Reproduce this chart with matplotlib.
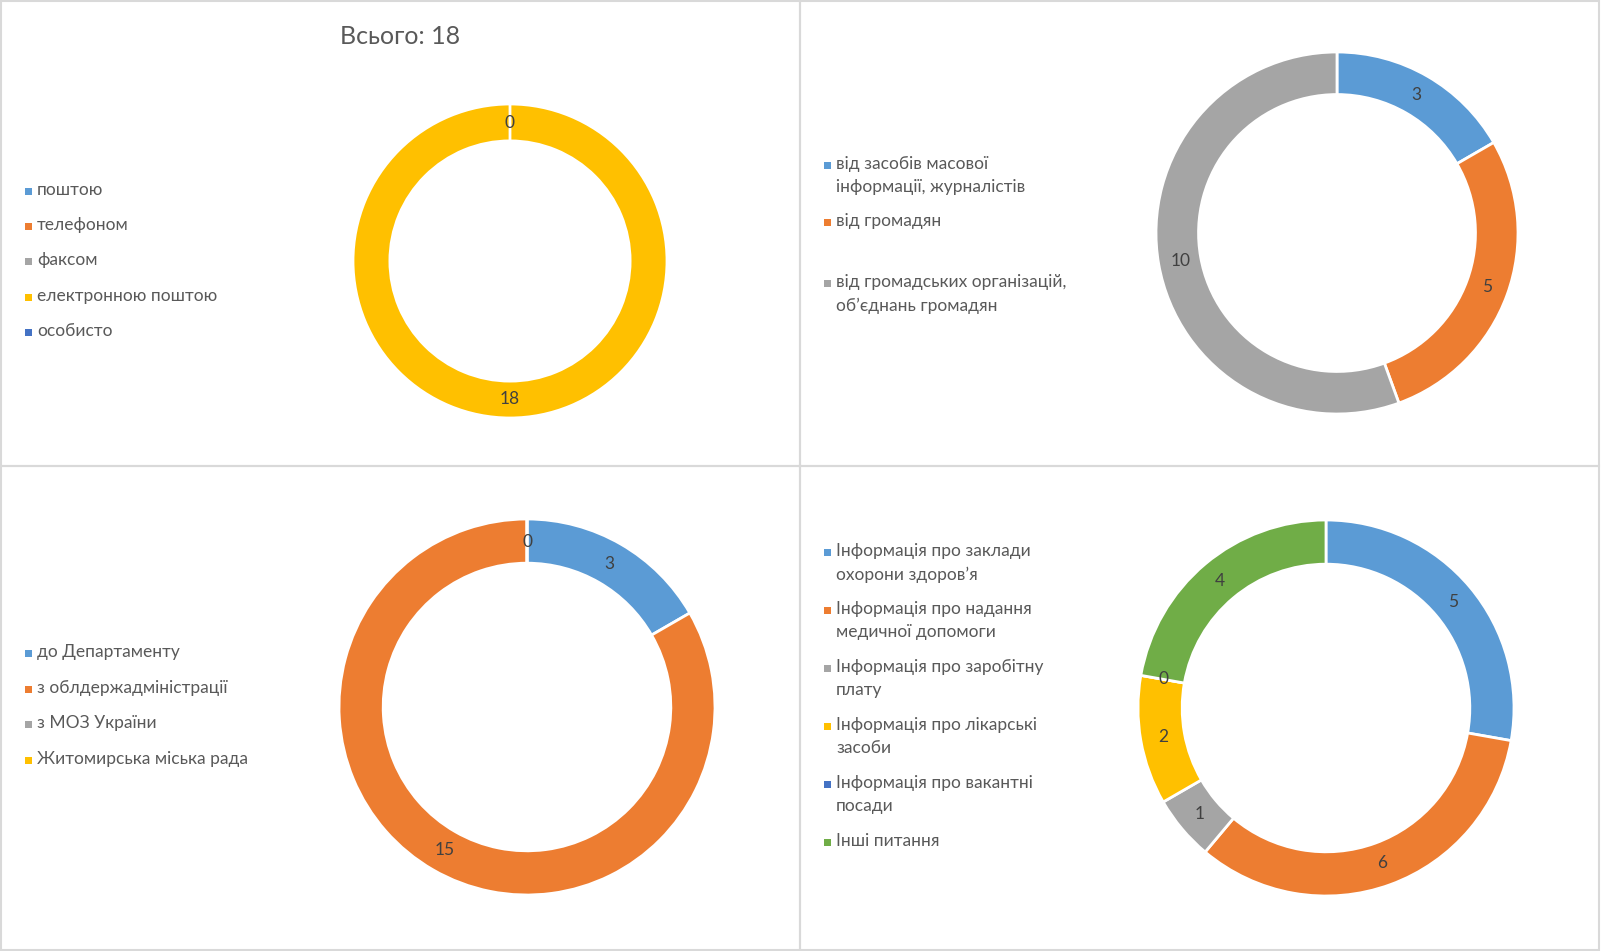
import matplotlib
matplotlib.use("Agg")
import matplotlib.pyplot as plt
import matplotlib.patches as pat

plt.rcParams['font.family'] = ['Lato', 'DejaVu Sans']

# --- дані ---
cat1 = ["поштою", "телефоном", "факсом", "електронною поштою", "особисто"]
val1 = [0, 0, 0, 18, 0]
title1 = "Всього: 18"

cat2 = ["від засобів масової\nінформації, журналістів", "від громадян",
        "від громадських організацій,\nоб’єднань громадян"]
val2 = [3, 5, 10]

cat3 = ["до Департаменту", "з облдержадміністрації", "з МОЗ України",
        "Житомирська міська рада"]
val3 = [3, 15, 0, 0]

cat4 = ["Інформація про заклади\nохорони здоров’я",
        "Інформація про надання\nмедичної допомоги",
        "Інформація про заробітну\nплату",
        "Інформація про лікарські\nзасоби",
        "Інформація про вакантні\nпосади",
        "Інші питання"]
val4 = [5, 6, 1, 2, 0, 4]

# кольори Office
blue = "#5B9BD5"
orange = "#ED7D31"
grey = "#A5A5A5"
gold = "#FFC000"
dblue = "#4472C4"
green = "#70AD47"

W, H = 1601, 951
fig = plt.figure(figsize=(W / 100, H / 100), dpi=100)

# рамки панелей
def frame(x0, y0, x1, y1):
    r = pat.Rectangle((x0 / W, 1 - y1 / H), (x1 - x0) / W, (y1 - y0) / H,
                      transform=fig.transFigure, fill=False,
                      edgecolor="#D9D9D9", linewidth=1.5)
    fig.patches.append(r)

frame(1, 1, 800, 466)
frame(800, 1, 1599, 466)
frame(1, 466, 800, 950)
frame(800, 466, 1599, 950)


def donut(cx, cy, R, vals, cols):
    ax = fig.add_axes([(cx - R) / W, (H - cy - R) / H, 2 * R / W, 2 * R / H])
    tot = sum(vals)
    wedges, texts, auto = ax.pie(vals, colors=cols, startangle=90, counterclock=False,
           wedgeprops=dict(width=0.235, edgecolor="white", linewidth=2),
           autopct=lambda p: "%d" % round(p * tot / 100), pctdistance=0.88,
           textprops=dict(color="#404040", fontsize=12.5))
    # однакові нулі в одній точці — лишаємо один
    seen = []
    for t in auto:
        pos = (round(t.get_position()[0], 3), round(t.get_position()[1], 3))
        if pos in seen:
            t.set_visible(False)
        seen.append(pos)
    ax.set_xlim(-1, 1)
    ax.set_ylim(-1, 1)
    ax.axis("off")
    return ax


def legend(x, ys, labels, cols):
    for y, lab, c in zip(ys, labels, cols):
        fig.patches.append(pat.Rectangle(((x - 4) / W, 1 - (y + 4) / H), 7 / W, 7 / H,
                                         transform=fig.transFigure,
                                         facecolor=c, edgecolor="none"))
        fig.text((x + 8) / W, 1 - (y - 9) / H, lab, fontsize=12.5,
                 color="#595959", va="top", ha="left", linespacing=1.55)


# панель 1
fig.text(400 / W, 1 - 36 / H, title1, fontsize=18, color="#595959",
         ha="center", va="center")
donut(510, 261, 157, val1, [blue, orange, grey, gold, dblue])
legend(29, [191, 226, 261, 297, 332], cat1, [blue, orange, grey, gold, dblue])

# панель 2
donut(1337, 233, 181, val2, [blue, orange, grey])
legend(828, [165, 222, 283], cat2, [blue, orange, grey])

# панель 3
donut(527, 707, 188, val3, [blue, orange, grey, gold])
legend(29, [653, 689, 724, 760], cat3, [blue, orange, grey, gold])

# панель 4
donut(1326, 708, 188, val4, [blue, orange, grey, gold, dblue, green])
legend(828, [552, 610, 668, 726, 784, 842], cat4,
       [blue, orange, grey, gold, dblue, green])

fig.savefig("out.png", dpi=100)
